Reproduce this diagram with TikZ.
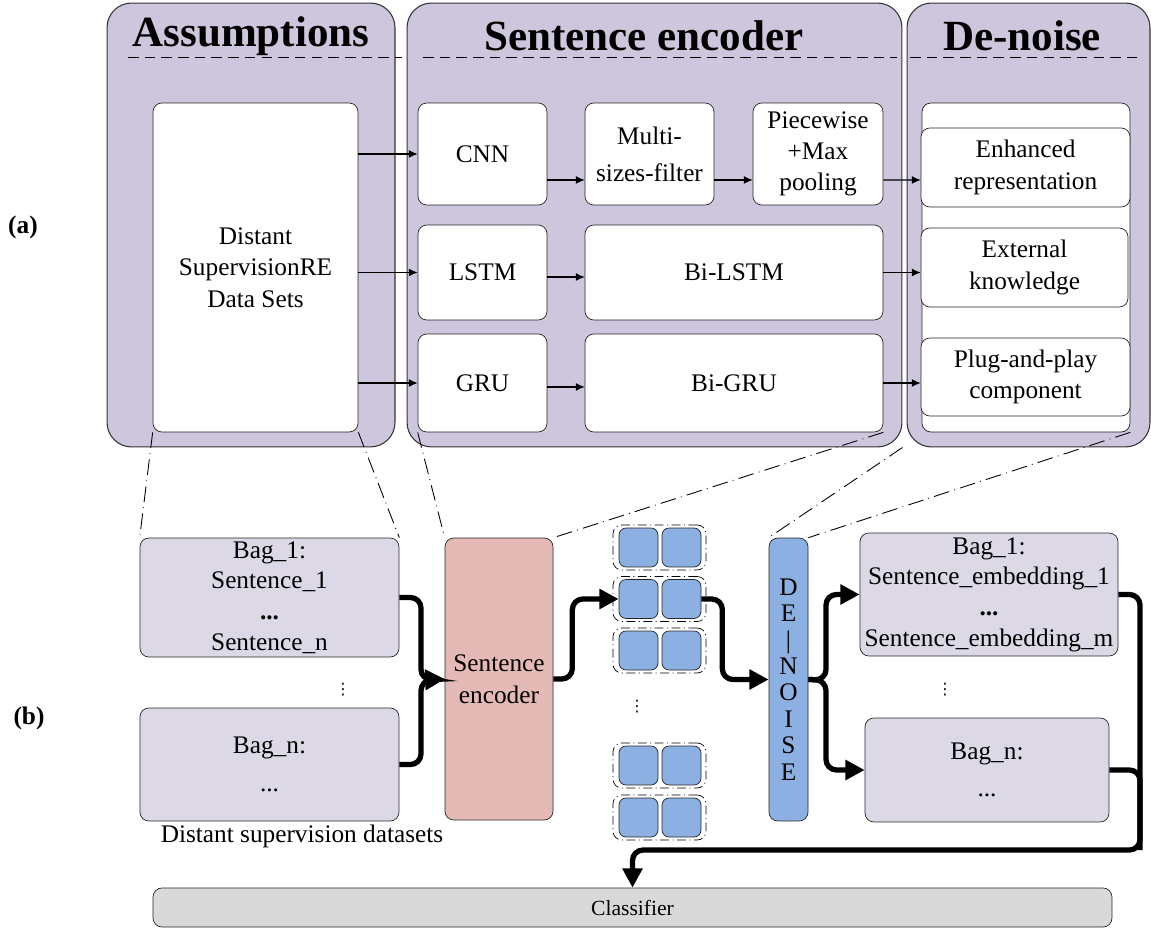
\documentclass[tikz,border=0pt]{standalone}
\usepackage{fontspec}
\setmainfont{Liberation Serif}
\newfontfamily\symfont{DejaVu Sans}
\usetikzlibrary{positioning,arrows.meta,calc}

\definecolor{panelbg}{RGB}{206,198,221}
\definecolor{bagbg}{RGB}{221,216,230}
\definecolor{encbg}{RGB}{229,185,181}
\definecolor{vecbg}{RGB}{141,176,226}
\definecolor{clsbg}{RGB}{217,217,217}

\begin{document}
\begin{tikzpicture}[x=0.02cm, y=-0.02cm, font=\fontsize{14.4}{18}\selectfont,
  panel/.style={draw=black!80, fill=panelbg, rounded corners=14pt, line width=0.6pt},
  wbox/.style={draw=black!85, fill=white, rounded corners=5pt, align=center, inner sep=1pt},
  head/.style={font=\fontsize{24.5}{28}\selectfont\bfseries},
  bag/.style={draw=black!85, fill=bagbg, rounded corners=5pt, align=center, inner sep=0pt, font=\fontsize{14.4}{17.5}\selectfont},
  vec/.style={draw=black!85, fill=vecbg, rounded corners=4pt, minimum width=0.78cm, minimum height=0.78cm, inner sep=0pt},
  grp/.style={draw, rounded corners=5pt, dash pattern=on 5pt off 2pt on 0.6pt off 2pt, minimum width=1.86cm, minimum height=0.9cm, inner sep=0pt},
  vd/.style={font=\symfont\fontsize{9}{9}\selectfont, inner sep=0pt},
  arr/.style={-{Latex[length=5pt,width=4.5pt]}, line width=0.6pt},
  thk/.style={line width=3pt, rounded corners=6pt},
  thka/.style={thk, -{Triangle[length=11pt,width=11pt]}},
  zoomln/.style={line width=0.5pt, dash pattern=on 9pt off 3pt on 0.5pt off 3pt}]
  \useasboundingbox (0,0) rectangle (1151,928);

  % (a) part
  \node[panel, minimum width=5.76cm, minimum height=8.88cm] (pAsm) at (251,225) {};
  \node[panel, minimum width=9.9cm, minimum height=8.88cm] (pEnc) at (654.5,225) {};
  \node[panel, minimum width=4.86cm, minimum height=8.88cm] (pDen) at (1028.5,225) {};
  \node[head] (hAsm) at (251,36) {Assumptions};
  \node[head] (hEnc) at (644,36) {Sentence encoder};
  \node[head] (hDen) at (1022,36) {De-noise};
  \draw[line width=0.5pt, dash pattern=on 6pt off 3.5pt] (128,57) -- (402,57);
  \draw[line width=0.5pt, dash pattern=on 6pt off 3.5pt] (423,57) -- (897,57);
  \draw[line width=0.5pt, dash pattern=on 6pt off 3.5pt] (910,57) -- (1137,57);

  \node[wbox, minimum width=4.1cm, minimum height=6.58cm] (ds) at (255.5,267.5) {Distant\\SupervisionRE\\Data Sets};
  \node[wbox, minimum width=2.58cm, minimum height=2.04cm] (cnn) at (482.5,154) {CNN};
  \node[wbox, minimum width=2.58cm, minimum height=2.04cm] (msf) at (649.5,154) {Multi-\\[3pt]sizes-filter};
  \node[wbox, minimum width=2.6cm, minimum height=2.04cm, font=\fontsize{14.4}{17.5}\selectfont] (pwp) at (818,154) {Piecewise\\+Max\\pooling};
  \node[wbox, minimum width=2.58cm, minimum height=1.9cm] (lstm) at (482.5,272.5) {LSTM};
  \node[wbox, minimum width=5.96cm, minimum height=1.9cm] (bilstm) at (734,272.5) {Bi-LSTM};
  \node[wbox, minimum width=2.58cm, minimum height=1.96cm] (gru) at (482.5,383) {GRU};
  \node[wbox, minimum width=5.96cm, minimum height=1.96cm] (bigru) at (734,383) {Bi-GRU};

  \node[wbox, minimum width=4.16cm, minimum height=6.58cm] (dnBg) at (1026,267.5) {};
  \node[wbox, minimum width=4.18cm, minimum height=1.58cm] (enh) at (1025.5,167.5) {Enhanced\\representation};
  \node[wbox, minimum width=4.14cm, minimum height=1.58cm] (ext) at (1024.5,267.5) {External\\knowledge};
  \node[wbox, minimum width=4.18cm, minimum height=1.56cm] (plug) at (1025.5,377) {Plug-and-play\\component};

  \draw[arr] (ds.east |- cnn) -- (cnn.west);
  \draw[arr] (ds.east |- lstm) -- (lstm.west);
  \draw[arr] (ds.east |- gru) -- (gru.west);
  \draw[arr] ([yshift=-0.52cm]cnn.east) -- ([yshift=-0.52cm]msf.west);
  \draw[arr] ([yshift=-0.52cm]msf.east) -- ([yshift=-0.52cm]pwp.west);
  \draw[arr] ([yshift=-0.52cm]pwp.east) -- ([yshift=-0.25cm]enh.west);
  \draw[arr] ([yshift=-0.09cm]lstm.east) -- ([yshift=-0.09cm]bilstm.west);
  \draw[arr] (bilstm.east) -- (ext.west |- bilstm.east);
  \draw[arr] ([yshift=-0.08cm]gru.east) -- ([yshift=-0.08cm]bigru.west);
  \draw[arr] (bigru.east) -- (plug.west |- bigru.east);

  \node[font=\fontsize{14.4}{17}\selectfont\bfseries] (lblA) at (23,227) {(a)};
  \node[font=\fontsize{14.4}{17}\selectfont\bfseries] (lblB) at (29,718) {(b)};

  % (b) part
  \node[bag, minimum width=5.18cm, minimum height=2.38cm] (bag1L) at (269.5,597.5) {Bag\_1:\\Sentence\_1\\\textbf{...}\\Sentence\_n};
  \node[bag, minimum width=5.18cm, minimum height=2.26cm] (bagnL) at (269.5,764.5) {Bag\_n:\\[4pt]...};
  \node[vd] (vdL) at (343,690) {⋮};
  \node (capL) at (302,836) {Distant supervision datasets};
  \node[draw=black!85, fill=encbg, rounded corners=5pt, minimum width=2.16cm, minimum height=5.64cm, align=center, inner sep=0pt] (senc) at (499,679) {Sentence\\encoder};

  \foreach \i/\yy in {1/547.5, 2/599, 3/650.5, 4/765.5, 5/817.5} {
    \node[grp] (g\i) at (659.5,\yy) {};
    \node[vec] (g\i a) at (638.5,\yy) {};
    \node[vec] (g\i b) at (681.5,\yy) {};
  }
  \node[vd] (vdM) at (637,707) {⋮};

  \node[draw=black!85, fill=vecbg, rounded corners=5pt, minimum width=0.78cm, minimum height=5.66cm, inner sep=0pt, align=center, font=\fontsize{14.4}{15}\selectfont] (dn) at (788.5,679.5) {D\\E\\|\\N\\O\\I\\S\\E};

  \node[bag, minimum width=5.16cm, minimum height=2.46cm] (bag1R) at (989,594.5) {Bag\_1:\\Sentence\_embedding\_1\\\textbf{...}\\Sentence\_embedding\_m};
  \node[bag, minimum width=4.88cm, minimum height=2.08cm] (bagnR) at (987,770) {Bag\_n:\\[4pt]...};
  \node[vd] (vdR) at (945,690) {⋮};

  \node[draw=black!85, fill=clsbg, rounded corners=5pt, minimum width=19.18cm, minimum height=0.78cm, font=\fontsize{12.3}{14}\selectfont] (cls) at (632.5,907.5) {Classifier};

  % zoom lines
  \draw[zoomln] (ds.south west) -- (bag1L.north west);
  \draw[zoomln] (ds.south east) -- (bag1L.north east);
  \draw[zoomln] (gru.south west) -- (senc.north west);
  \draw[zoomln] (bigru.south east) -- (senc.north east);
  \draw[zoomln] (pEnc.south east) -- (dn.north west);
  \draw[zoomln] (dnBg.south east) -- (dn.north east);

  % thick flow
  \coordinate (jL) at (421,680);
  \draw[thka] (bag1L.east) -| (jL) -- (senc.west);
  \draw[thka] (bagnL.east) -| (jL) -- (senc.west);
  \draw[thka] (senc.east) -- ++(19,0) |- (g2a.west);
  \draw[thka] (g2b.east) -- ++(21,0) |- (dn.west);
  \coordinate (jR) at (826,680);
  \draw[thka] (dn.east) -- (jR) |- (bag1R.west);
  \draw[thka] (dn.east) -- (jR) |- (bagnR.west);
  \coordinate (jO) at (1140,850);
  \draw[thka] (bag1R.east) -| (jO) -| (cls.north);
  \draw[thk] (bagnR.east) -| (jO);
\end{tikzpicture}
\end{document}
